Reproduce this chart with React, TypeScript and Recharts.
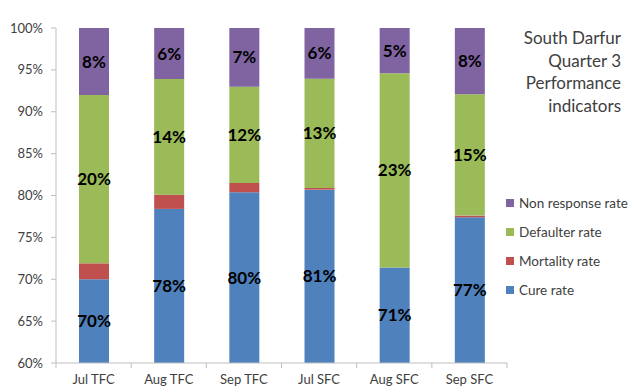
import { Bar, BarChart, LabelList, Legend, XAxis, YAxis } from "recharts";

// values in % (segments sum to 100)
const categories = ["Jul TFC", "Aug TFC", "Sep TFC", "Jul SFC", "Aug SFC", "Sep SFC"];
const cureRate = [70.0, 78.4, 80.4, 80.7, 71.4, 77.4];
const mortalityRate = [1.9, 1.7, 1.1, 0.2, 0, 0.2];
const defaulterRate = [20.1, 13.8, 11.5, 13.05, 23.2, 14.5];
const nonResponseRate = [8.0, 6.1, 7.0, 6.05, 5.4, 7.9];
const yTicks = [60, 65, 70, 75, 80, 85, 90, 95, 100];
const titleLines = ["South Darfur", "Quarter 3", "Performance", "indicators"];

const W = 631;
const H = 387;
const PLOT_LEFT = 56;
const PLOT_RIGHT = 507;
const PLOT_TOP = 28;
const PLOT_BOTTOM = 363;
const AXIS = "#bfbfbf";
const TEXT = "#404040";
const FONT = "Lato, 'Open Sans', sans-serif";

const series = [
  { key: "cure", name: "Cure rate", color: "#4F81BD", label: true },
  { key: "mortality", name: "Mortality rate", color: "#C0504D", label: false },
  { key: "defaulter", name: "Defaulter rate", color: "#9BBB59", label: true },
  { key: "nonResponse", name: "Non response rate", color: "#8064A2", label: true },
];

const data = categories.map((name, i) => ({
  name,
  cure: cureRate[i],
  mortality: mortalityRate[i],
  defaulter: defaulterRate[i],
  nonResponse: nonResponseRate[i],
}));

function CategoryTick(props: any) {
  const { x, payload, index } = props;
  const band = (PLOT_RIGHT - PLOT_LEFT) / categories.length;
  const left = x - band / 2;
  return (
    <g>
      <line x1={left} x2={left} y1={PLOT_BOTTOM} y2={PLOT_BOTTOM + 5} stroke={AXIS} />
      {index === categories.length - 1 && (
        <line x1={left + band} x2={left + band} y1={PLOT_BOTTOM} y2={PLOT_BOTTOM + 5} stroke={AXIS} />
      )}
      <text x={x} y={PLOT_BOTTOM + 21} textAnchor="middle" fontSize={13} fill={TEXT} fontFamily={FONT}>
        {payload.value}
      </text>
    </g>
  );
}

function LegendList(props: any) {
  const order = [...series].reverse().map((s) => s.name);
  const items = [...(props.payload ?? [])].sort(
    (a: any, b: any) => order.indexOf(a.value) - order.indexOf(b.value),
  );
  return (
    <div style={{ fontFamily: FONT, fontSize: 13.5, color: TEXT, whiteSpace: "nowrap" }}>
      {items.map((it: any) => (
        <div key={it.value} style={{ display: "flex", alignItems: "center", height: 29 }}>
          <span style={{ width: 8, height: 8, background: it.color, marginRight: 5, flexShrink: 0 }} />
          <span>{it.value}</span>
        </div>
      ))}
    </div>
  );
}

export default function App() {
  return (
    <div style={{ position: "absolute", left: 0, top: 0, width: W, height: H, background: "#fff" }}>
      <BarChart
        width={W}
        height={H}
        data={data}
        margin={{ top: PLOT_TOP, right: W - PLOT_RIGHT, left: 6, bottom: 0 }}
      >
        <XAxis
          dataKey="name"
          height={H - PLOT_BOTTOM}
          axisLine={{ stroke: AXIS }}
          tickLine={false}
          tick={<CategoryTick />}
          interval={0}
        />
        <YAxis
          type="number"
          domain={[60, 100]}
          allowDataOverflow
          ticks={yTicks}
          width={PLOT_LEFT - 6}
          axisLine={{ stroke: AXIS }}
          tickLine={{ stroke: AXIS }}
          tickSize={5}
          tickMargin={8}
          tick={{ fontSize: 13, fill: TEXT, fontFamily: FONT }}
          tickFormatter={(v) => `${v}%`}
        />
        <Legend
          layout="vertical"
          align="center"
          verticalAlign="middle"
          content={<LegendList />}
          wrapperStyle={{ left: 506, top: 188, width: 125 }}
        />
        {series.map((s) => (
          <Bar
            key={s.key}
            dataKey={s.key}
            name={s.name}
            stackId="a"
            fill={s.color}
            barSize={30}
            isAnimationActive={false}
          >
            {s.label && (
              <LabelList
                dataKey={s.key}
                position="center"
                formatter={(v: any) => `${Math.round(Number(v))}%`}
                fill="#000"
                fontSize={17}
                fontWeight="bold"
                fontFamily={FONT}
              />
            )}
          </Bar>
        ))}
      </BarChart>
      <div
        style={{
          position: "absolute",
          right: 10,
          top: 27,
          textAlign: "right",
          fontFamily: FONT,
          fontSize: 17,
          lineHeight: "22.5px",
          color: TEXT,
        }}
      >
        {titleLines.map((t) => (
          <div key={t}>{t}</div>
        ))}
      </div>
    </div>
  );
}
